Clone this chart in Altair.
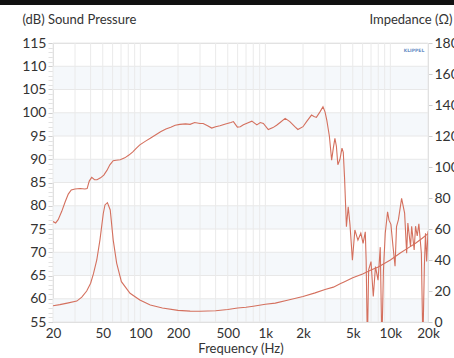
import altair as alt
import pandas as pd

# ---- data ----
spl_freq = [20, 21, 22, 23.5, 25, 26.5, 28, 30, 33, 36, 37.5, 39, 40.8, 43, 45, 48, 51, 54, 57,
            60.6, 64, 69, 75, 81, 87, 93, 99, 110, 120, 132, 145, 160, 175, 190, 207, 230, 250,
            272, 300, 318, 345, 372, 400, 433, 480, 530, 555, 597, 630, 667, 720, 780, 855, 910,
            964, 1055, 1150, 1230, 1312, 1440, 1570, 1720, 1820, 2000, 2150, 2340, 2450, 2560,
            2750, 2890, 3000, 3100, 3250, 3390, 3500, 3600, 3700, 3800, 3950, 4100, 4200, 4300,
            4450, 4600, 4750, 4970, 5200, 5500, 5800, 6050, 6300, 6400, 6550, 6700, 7000, 7300,
            7600, 7970, 8300, 8550, 8800, 9100, 9500, 9750, 10100, 10500, 10900, 11200, 11600,
            12300, 13000, 13500, 13800, 14500, 14800, 15500, 15900, 16400, 16900, 17700, 18200,
            18700, 19100, 19500, 20000]
spl_db = [76.6, 76.3, 77.0, 78.8, 80.8, 82.5, 83.4, 83.6, 83.7, 83.6, 83.7, 85.3, 86.1, 85.6,
          85.6, 86.0, 86.6, 87.6, 88.8, 89.7, 89.8, 89.9, 90.3, 90.9, 91.6, 92.4, 93.1, 93.9,
          94.5, 95.2, 95.9, 96.5, 96.9, 97.3, 97.5, 97.6, 97.5, 97.9, 97.7, 97.7, 97.2, 96.7,
          97.0, 97.2, 97.6, 97.9, 98.1, 96.9, 97.0, 97.4, 97.8, 98.2, 97.4, 97.9, 97.7, 96.4,
          96.8, 97.3, 97.9, 98.8, 98.1, 97.0, 96.4, 97.0, 98.2, 99.5, 99.2, 99.0, 100.3, 101.3,
          100.2, 98.4, 95.0, 89.8, 92.5, 94.5, 92.8, 88.8, 90.0, 92.4, 91.5, 86.0, 75.5, 79.8,
          76.0, 68.3, 74.8, 72.6, 74.1, 71.9, 74.4, 68.3, 50.0, 66.2, 68.0, 60.5, 66.9, 64.0,
          71.1, 50.0, 66.0, 74.1, 78.7, 76.9, 76.0, 71.2, 67.0, 75.5, 77.0, 81.6, 78.4, 69.8,
          76.3, 71.2, 75.6, 70.5, 75.6, 73.5, 76.1, 69.8, 50.0, 66.9, 74.1, 68.0, 74.5]

imp_freq = [20, 22.7, 26, 31, 34, 37.2, 40, 42.1, 44.8, 47.5, 50.5, 52.1, 54.5, 57.4, 60.6,
            64.6, 70.5, 82.7, 99, 120, 150, 200, 250, 300, 400, 500, 600, 700, 800, 1000, 1200,
            1500, 2000, 2500, 3000, 3500, 4000, 4300, 5000, 6000, 7000, 8000, 10000, 12000,
            14000, 16000, 18000, 20000]
imp_ohm = [10.5, 11.2, 12.2, 13.5, 16.0, 20.0, 25.0, 31.0, 40.0, 53.0, 70.0, 75.5, 77.0, 72.3,
           53.0, 38.0, 26.0, 18.5, 14.2, 11.0, 9.0, 7.5, 7.0, 6.9, 7.3, 8.1, 9.0, 9.5, 10.2,
           11.5, 12.2, 14.0, 16.5, 18.8, 21.0, 22.5, 24.8, 26.0, 28.5, 31.0, 33.5, 35.5, 40.0,
           44.5, 48.0, 51.0, 54.0, 57.0]

x_grid = [20, 30, 40, 50, 60, 70, 80, 90, 100, 200, 300, 400, 500, 600, 700, 800, 900,
          1000, 2000, 3000, 4000, 5000, 6000, 7000, 8000, 9000, 10000, 20000]
x_labels = [20, 50, 100, 200, 500, 1000, 2000, 5000, 10000, 20000]
y_grid = [55, 60, 65, 70, 75, 80, 85, 90, 95, 100, 105, 110, 115]
band_start = [55, 65, 75, 85, 95, 105]
y_ticks = list(range(55, 116))
imp_ticks = [0, 20, 40, 60, 80, 100, 120, 140, 160, 180]

W, H = 375, 279
LINE = "#d4705e"
TXT = "#333333"

spl = pd.DataFrame({"f": spl_freq, "v": spl_db})
imp = pd.DataFrame({"f": imp_freq, "v": imp_ohm})
bands = pd.DataFrame({"v": band_start, "v2": [b + 5 for b in band_start]})
vg = pd.DataFrame({"f": x_grid})
hg = pd.DataFrame({"v": y_grid})

xscale = alt.Scale(type="log", domain=[20, 20000], nice=False)
dbscale = alt.Scale(domain=[55, 115], nice=False, zero=False)
ohmscale = alt.Scale(domain=[0, 180], nice=False, zero=True)

lab_list = ",".join(str(v) for v in x_labels)
x_axis = alt.Axis(
    values=x_grid, grid=False, ticks=False, domainColor="#d9d9d9",
    labelExpr=f"indexof([{lab_list}], datum.value) >= 0 ? (datum.value >= 1000 ? (datum.value/1000) + 'k' : '' + datum.value) : ''",
    labelFontSize=13.5, labelColor=TXT, labelPadding=4, labelFlush=False, labelOverlap=False,
    title="Frequency (Hz)", titleFontSize=13, titleFontWeight="normal", titleColor=TXT,
    titlePadding=3,
)

db_axis = alt.Axis(
    orient="left", values=y_ticks, grid=False,
    labelExpr="datum.value % 5 === 0 ? '' + datum.value : ''",
    labelFontSize=14, labelColor=TXT, labelPadding=2, labelFlush=False, labelOverlap=False,
    tickSize=5, tickColor="#cfcfcf",
    tickOpacity={"condition": {"test": "datum.value % 5 === 0", "value": 1}, "value": 0.6},
    domainColor="#d9d9d9",
    title="(dB) Sound Pressure", titleAngle=0, titleAlign="left", titleBaseline="middle",
    titleX=-31, titleY=-24, titleFontSize=13, titleFontWeight="normal", titleColor=TXT,
)

band_layer = alt.Chart(bands).mark_rect(color="#f5f8fb").encode(
    x=alt.value(0), x2=alt.value(W),
    y=alt.Y("v:Q", scale=dbscale, axis=db_axis), y2="v2:Q",
)
hgrid = alt.Chart(hg).mark_rule(color="#e8e8e8", strokeWidth=1).encode(
    x=alt.value(0), x2=alt.value(W),
    y=alt.Y("v:Q", scale=dbscale, axis=db_axis),
)
vgrid = alt.Chart(vg).mark_rule(color="#eaeaea", strokeWidth=1).encode(
    x=alt.X("f:Q", scale=xscale, axis=x_axis),
    y=alt.value(0), y2=alt.value(H),
)

spl_line = alt.Chart(spl).mark_line(color=LINE, strokeWidth=1.1, clip=True).encode(
    x=alt.X("f:Q", scale=xscale, axis=x_axis),
    y=alt.Y("v:Q", scale=dbscale, axis=db_axis),
)

imp_line = alt.Chart(imp).mark_line(color=LINE, strokeWidth=1.1, clip=True).encode(
    x=alt.X("f:Q", scale=xscale, axis=x_axis),
    y=alt.Y("v:Q", scale=ohmscale, axis=alt.Axis(
        orient="right", values=imp_ticks, grid=False,
        labelFontSize=14, labelColor=TXT, labelPadding=2, labelFlush=False, labelOverlap=False,
        tickSize=4, tickColor="#cfcfcf", domainColor="#d9d9d9",
        title="Impedance (Ω)", titleAngle=0, titleAlign="right", titleBaseline="middle",
        titleX=24, titleY=-24, titleFontSize=13, titleFontWeight="normal", titleColor=TXT,
    )),
)

top_bar = alt.Chart(pd.DataFrame({"a": [0]})).mark_rect(color="#111111").encode(
    x=alt.value(-53), x2=alt.value(W + 26), y=alt.value(-43), y2=alt.value(-38),
)
logo = alt.Chart(pd.DataFrame({"t": ["KLIPPEL"]})).mark_text(
    fontSize=4.5, fontWeight="bold", color="#6b8fc6", font="DejaVu Sans",
).encode(x=alt.value(361), y=alt.value(8), text="t:N")

base = alt.layer(band_layer, hgrid, vgrid, spl_line, top_bar, logo)
chart = alt.layer(base, imp_line).resolve_scale(y="independent").properties(
    width=W, height=H,
    autosize=alt.AutoSizeParams(type="none"),
    padding={"left": 53, "top": 43, "right": 26, "bottom": 36},
).configure_view(stroke=None).configure(font="Lato")

chart.save("out.html", embed_options={"renderer": "svg", "actions": False})
